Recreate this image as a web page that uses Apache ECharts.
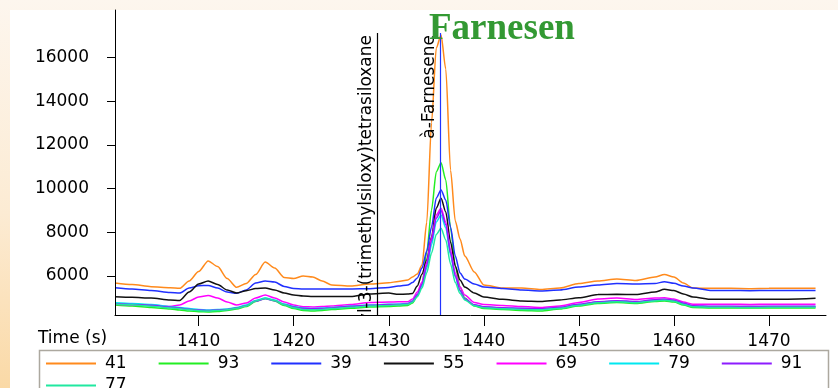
<!DOCTYPE html>
<html>
<head>
<meta charset="utf-8">
<script src="https://cdn.jsdelivr.net/npm/echarts@6/dist/echarts.min.js"></script>
<style>
  html, body { margin: 0; padding: 0; }
  body { width: 838px; height: 388px; position: relative; overflow: hidden;
         background: linear-gradient(to bottom, #fdf6ee 0%, #fcebd3 55%, #fad9a6 100%); }
  #paper { position: absolute; left: 10px; top: 10px; right: 0; bottom: 0; background: #fff; }
  #chart { position: absolute; left: 0; top: 0; width: 838px; height: 388px; }
</style>
</head>
<body>
<div id="paper"></div>
<div id="chart"></div>
<script>
  // retention time (s)
  const times = [1401.2, 1403, 1405, 1407, 1408, 1409, 1410, 1411, 1412, 1413, 1414, 1415, 1416, 1417, 1418, 1419, 1420, 1421, 1422, 1423, 1424, 1426, 1428, 1430, 1431, 1432, 1432.5, 1433, 1433.5, 1434, 1434.5, 1435, 1435.5, 1436, 1436.5, 1437, 1437.5, 1438, 1439, 1440, 1442, 1444, 1446, 1448, 1450, 1452, 1454, 1456, 1458, 1459, 1460, 1461, 1462, 1464, 1466, 1468, 1470, 1472, 1474.9]

  // ion traces (m/z)
  const s41 = [5680, 5610, 5510, 5465, 5435, 5770, 6205, 6690, 6435, 5885, 5480, 5655, 6070, 6640, 6365, 5930, 5885, 6000, 5955, 5770, 5590, 5540, 5635, 5690, 5750, 5815, 5955, 6090, 6505, 8475, 13010, 16445, 17040, 15480, 10855, 8520, 7695, 6915, 6185, 5590, 5450, 5450, 5380, 5450, 5655, 5770, 5860, 5795, 5955, 6070, 5955, 5680, 5450, 5435, 5435, 5420, 5435, 5440, 5435]
  const s93 = [4670, 4625, 4555, 4490, 4445, 4395, 4365, 4350, 4375, 4420, 4490, 4600, 4830, 4980, 4855, 4650, 4510, 4420, 4395, 4420, 4465, 4520, 4580, 4600, 4625, 4650, 4765, 5085, 5635, 7100, 9025, 10765, 11190, 10400, 8200, 6460, 5495, 4990, 4625, 4510, 4465, 4420, 4395, 4490, 4625, 4740, 4785, 4740, 4830, 4855, 4810, 4670, 4555, 4535, 4535, 4530, 4535, 4535, 4540]
  const s39 = [5465, 5405, 5335, 5245, 5220, 5450, 5555, 5565, 5450, 5265, 5205, 5360, 5680, 5770, 5725, 5520, 5425, 5405, 5405, 5405, 5405, 5405, 5420, 5475, 5540, 5590, 5700, 5910, 6365, 7145, 8245, 9575, 9940, 9480, 8245, 6915, 6135, 5860, 5635, 5495, 5425, 5360, 5315, 5360, 5495, 5590, 5655, 5635, 5655, 5740, 5665, 5540, 5450, 5335, 5335, 5330, 5335, 5335, 5340]
  const s55 = [5050, 5025, 4990, 4900, 4880, 5265, 5635, 5770, 5610, 5360, 5220, 5325, 5425, 5450, 5360, 5220, 5130, 5085, 5060, 5060, 5060, 5060, 5175, 5220, 5160, 5175, 5200, 5540, 6090, 6735, 7785, 9115, 9560, 8930, 7555, 6460, 5815, 5495, 5220, 5040, 4930, 4855, 4830, 4900, 5005, 5150, 5160, 5150, 5265, 5390, 5335, 5175, 5040, 4930, 4930, 4930, 4935, 4940, 4980]
  const s69 = [4705, 4685, 4670, 4600, 4670, 4855, 5040, 5105, 4990, 4810, 4670, 4765, 4990, 5130, 4990, 4810, 4670, 4595, 4580, 4600, 4625, 4695, 4785, 4810, 4820, 4820, 4945, 5265, 5725, 6640, 7740, 8795, 9100, 8475, 7190, 6135, 5495, 5130, 4785, 4695, 4650, 4600, 4555, 4625, 4785, 4945, 4990, 4925, 4990, 5005, 4945, 4810, 4705, 4705, 4705, 4700, 4705, 4705, 4710]
  const s79 = [4775, 4740, 4695, 4600, 4555, 4510, 4465, 4445, 4465, 4490, 4555, 4670, 4880, 4990, 4900, 4715, 4600, 4535, 4510, 4530, 4555, 4625, 4670, 4705, 4715, 4740, 4855, 5130, 5540, 6365, 7420, 8475, 8795, 8200, 6960, 5955, 5315, 4945, 4670, 4580, 4535, 4510, 4490, 4555, 4695, 4810, 4855, 4810, 4900, 4925, 4880, 4740, 4625, 4600, 4600, 4595, 4600, 4600, 4605]
  const s91 = [4730, 4700, 4660, 4580, 4530, 4480, 4440, 4420, 4440, 4470, 4530, 4640, 4850, 4960, 4870, 4690, 4580, 4520, 4500, 4515, 4540, 4610, 4660, 4690, 4700, 4720, 4840, 5150, 5620, 6500, 7600, 8650, 9000, 8350, 7050, 6000, 5350, 4960, 4680, 4590, 4550, 4525, 4505, 4570, 4710, 4825, 4870, 4830, 4915, 4940, 4895, 4755, 4640, 4615, 4615, 4610, 4615, 4615, 4620]
  const s77 = [4720, 4680, 4620, 4540, 4500, 4450, 4410, 4395, 4415, 4455, 4520, 4630, 4860, 4975, 4880, 4680, 4550, 4470, 4450, 4470, 4510, 4570, 4625, 4650, 4670, 4690, 4800, 5050, 5450, 6150, 7050, 7900, 8185, 7650, 6550, 5700, 5200, 4900, 4640, 4550, 4500, 4470, 4450, 4520, 4660, 4775, 4820, 4775, 4860, 4890, 4845, 4700, 4590, 4565, 4565, 4560, 4565, 4565, 4570]

  const seriesNames = ['41', '93', '39', '55', '69', '79', '91', '77']
  const seriesValues = [s41, s93, s39, s55, s69, s79, s91, s77]
  const seriesColors = ['#ff8a1c', '#22ee22', '#2030ff', '#111111', '#ff00ff', '#00e8f0', '#8d1cff', '#20e8a0']

  const yTicks = [6000, 8000, 10000, 12000, 14000, 16000]
  const xTicks = [1410, 1420, 1430, 1440, 1450, 1460, 1470]

  // identified peaks
  const markTimes = [1428.83, 1435.46]
  const markNames = ['1,1,1,3,5,5,7,7,7-Nonamethyl-3-(trimethylsiloxy)tetrasiloxane', 'à-Farnesene']
  const markColors = ['#000000', '#2233ff']
  const markTop = 17130

  const yMin = 4214, yMax = 18185
  const xMin = 1401.2, xMax = 1476

  const FONT = 'DejaVu Sans'
  const txt = { fontFamily: FONT, fontSize: 17, color: '#000' }

  let chart = echarts.init(document.getElementById('chart'))

  let series = seriesNames.map((name, i) => ({
    name: name,
    type: 'line',
    symbol: 'none',
    smooth: 0.25,
    smoothMonotone: 'x',
    z: 2,
    color: seriesColors[i],
    lineStyle: { width: 1.5, color: seriesColors[i] },
    data: times.map((t, k) => [t, seriesValues[i][k]])
  }))

  series[0].markLine = {
    silent: true,
    animation: false,
    symbol: ['none', 'none'],
    data: markTimes.map((t, i) => [
      {
        coord: [t, yMin],
        lineStyle: { color: markColors[i], width: 1.2, type: 'solid' },
        label: {
          show: true,
          position: 'insideEndTop',
          formatter: markNames[i],
          distance: [2, 3],
          ...txt
        }
      },
      { coord: [t, markTop] }
    ])
  }

  const legendBase = {
    left: 41,
    z: 120,
    icon: 'rect',
    itemWidth: 50, itemHeight: 2, itemGap: 32,
    selectedMode: false,
    textStyle: { ...txt, padding: [0, 0, 0, 4] }
  }

  chart.setOption({
    animation: false,
    title: {
      text: 'Farnesen',
      left: 424,
      top: 6,
      textStyle: { fontFamily: 'Liberation Serif', fontWeight: 'bold', fontSize: 37, color: '#339933' }
    },
    grid: { left: 115, right: 12, top: 10, bottom: 73 },
    legend: [
      { ...legendBase, data: seriesNames.slice(0, 7), top: 350 },
      { ...legendBase, data: seriesNames.slice(7), top: 372 }
    ],
    xAxis: {
      type: 'value',
      min: xMin, max: xMax,
      z: 120,
      splitLine: { show: false },
      axisLine: { onZero: false, lineStyle: { color: '#000', width: 1 } },
      axisTick: { length: 11, lineStyle: { color: '#000' }, customValues: xTicks },
      axisLabel: { ...txt, margin: 18, customValues: xTicks, formatter: v => String(v) }
    },
    yAxis: {
      type: 'value',
      min: yMin, max: yMax,
      z: 120,
      splitLine: { show: false },
      axisLine: { show: true, lineStyle: { color: '#000', width: 1 } },
      axisTick: { show: true, length: 8, lineStyle: { color: '#000' }, customValues: yTicks },
      axisLabel: { ...txt, margin: 26, customValues: yTicks, formatter: v => String(v) }
    },
    graphic: [
      // hides the part of the long compound name that runs below the axis
      { type: 'rect', left: 116, top: 316, shape: { width: 722, height: 72 }, style: { fill: '#fff' }, z: 100 },
      { type: 'rect', left: 37, top: 348, shape: { width: 789, height: 60 },
        style: { fill: 'none', stroke: '#aca89f', lineWidth: 1.5 }, z: 110 },
      { type: 'text', left: 38, top: 330, z: 120,
        style: { text: 'Time (s)', font: '17px "DejaVu Sans"', fill: '#000' } }
    ],
    series: series
  })
</script>
</body>
</html>
